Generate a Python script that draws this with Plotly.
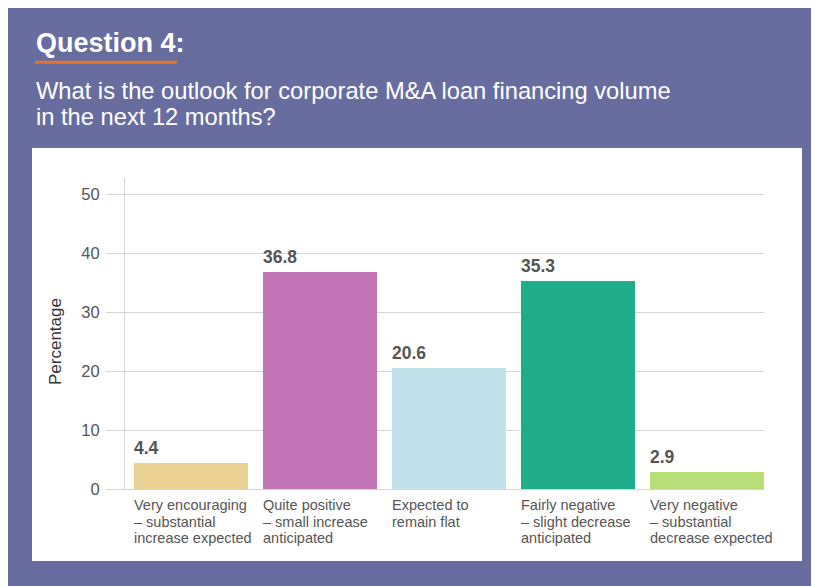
import plotly.graph_objects as go

# ---- data ----
categories = [
    "Very encouraging<br>– substantial<br>increase expected",
    "Quite positive<br>– small increase<br>anticipated",
    "Expected to<br>remain flat",
    "Fairly negative<br>– slight decrease<br>anticipated",
    "Very negative<br>– substantial<br>decrease expected",
]
values = [4.4, 36.8, 20.6, 35.3, 2.9]
value_labels = ["4.4", "36.8", "20.6", "35.3", "2.9"]
bar_colors = ["#e9d293", "#c275b5", "#c3e1ec", "#1fad8a", "#b8de77"]
y_ticks = [0, 10, 20, 30, 40, 50]

title_text = "Question 4:"
subtitle_lines = ["What is the outlook for corporate M&A loan financing volume",
                  "in the next 12 months?"]
y_title = "Percentage"

# ---- layout geometry (screen pixels; the page body adds an 8px offset) ----
OFF = 8
W_FIG, H_FIG = 819, 586
PLOT_X0, PLOT_X1 = 125, 764
PLOT_Y0, PLOT_Y1 = 178, 489
L = PLOT_X0 - OFF
R = W_FIG - (PLOT_X1 - OFF)
T = PLOT_Y0 - OFF
B = H_FIG - (PLOT_Y1 - OFF)
PW = W_FIG - L - R
PH = H_FIG - T - B

def px(x):
    return (x - PLOT_X0) / PW

def py(y):
    return (PLOT_Y1 - y) / PH

PURPLE = "#686d9f"
ORANGE = "#e5732a"
GRID = "#d4d4d4"
FONT = "Liberation Sans, Arial, sans-serif"

x_idx = list(range(len(categories)))
BAR_W = 0.884

fig = go.Figure()
fig.add_trace(go.Bar(
    x=x_idx, y=values, width=BAR_W,
    marker=dict(color=bar_colors, line=dict(width=0)),
    hoverinfo="skip", showlegend=False,
))

shapes = [
    dict(type="rect", xref="paper", yref="paper", x0=px(32), x1=px(802), y0=py(148), y1=py(561),
         fillcolor="white", line=dict(width=0), layer="below"),
    dict(type="line", xref="paper", yref="paper", x0=px(35), x1=px(177), y0=py(62.3), y1=py(62.3),
         line=dict(color=ORANGE, width=3)),
]

annotations = [
    dict(text=f"<b>{title_text}</b>", xref="paper", yref="paper", x=px(34), y=py(43),
         xanchor="left", yanchor="middle", showarrow=False,
         font=dict(family=FONT, size=27, color="white")),
    dict(text=subtitle_lines[0], xref="paper", yref="paper", x=px(34), y=py(91),
         xanchor="left", yanchor="middle", showarrow=False, align="left",
         font=dict(family=FONT, size=23.7, color="white")),
    dict(text=subtitle_lines[1], xref="paper", yref="paper", x=px(34), y=py(117),
         xanchor="left", yanchor="middle", showarrow=False, align="left",
         font=dict(family=FONT, size=23.7, color="white")),
    dict(text=y_title, xref="paper", yref="paper", x=px(55), y=py(342),
         xanchor="center", yanchor="middle", textangle=-90, showarrow=False,
         font=dict(family=FONT, size=17, color="#333333")),
]

LINE_Y = [505, 521.5, 538]
for i, (cat, v, lab) in enumerate(zip(categories, values, value_labels)):
    annotations.append(dict(
        text=f"<b>{lab}</b>", x=i - BAR_W / 2, y=v, xref="x", yref="y",
        xanchor="left", yanchor="bottom", yshift=3, xshift=-2, showarrow=False,
        font=dict(family=FONT, size=17.5, color="#555555"),
    ))
    for j, line in enumerate(cat.split("<br>")):
        annotations.append(dict(
            text=line, x=i - BAR_W / 2, y=py(LINE_Y[j]), xref="x", yref="paper",
            xanchor="left", yanchor="middle", xshift=-2, showarrow=False, align="left",
            font=dict(family=FONT, size=14.5, color="#555555"),
        ))

ymax = PH / ((PLOT_Y1 - 194.3) / 50)

fig.update_layout(
    width=W_FIG, height=H_FIG, autosize=False,
    margin=dict(l=L, r=R, t=T, b=B, pad=0),
    paper_bgcolor=PURPLE, plot_bgcolor="rgba(0,0,0,0)",
    font=dict(family=FONT, color="#555555"),
    bargap=0,
    shapes=shapes, annotations=annotations,
    xaxis=dict(range=[-0.512, 4.442], showticklabels=False, showgrid=False,
               zeroline=False, showline=True, linecolor=GRID, linewidth=1,
               ticks="", fixedrange=True),
    yaxis=dict(range=[0, ymax], tickvals=y_ticks, ticktext=[str(t) for t in y_ticks],
               showgrid=True, gridcolor=GRID, gridwidth=1, zeroline=False,
               showline=True, linecolor=GRID, linewidth=1,
               ticks="outside", ticklen=18, tickcolor=GRID, tickwidth=1,
               ticklabelstandoff=3,
               tickfont=dict(family=FONT, size=16.5, color="#555555"), fixedrange=True),
)

fig.write_html("out.html", config={"displayModeBar": False})
